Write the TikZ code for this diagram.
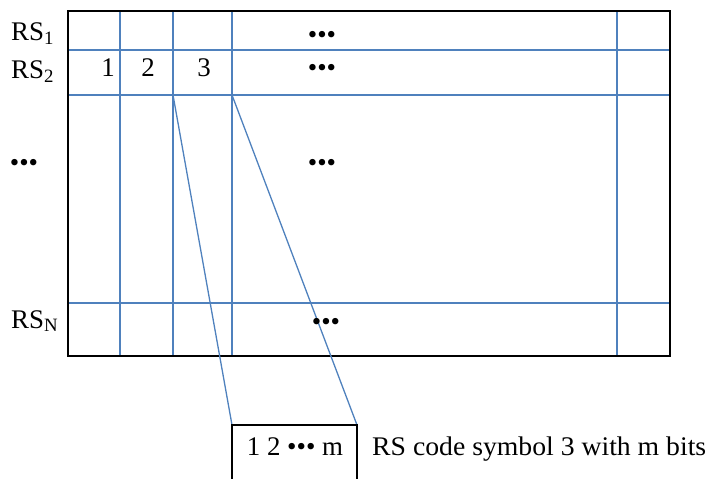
\documentclass[tikz,border=0pt]{standalone}
\usepackage{fontspec}
\setmainfont{Liberation Serif}
\definecolor{gridblue}{RGB}{79,129,189}
\begin{document}
\begin{tikzpicture}[x={(1bp,0)},y={(0,-1bp)},
  lbl/.style={inner sep=0pt,font=\fontsize{27}{32}\selectfont},
  dots/.style={lbl,anchor=center},
  gridline/.style={draw=gridblue,line width=1.6bp},
  frame/.style={draw=black,line width=2.6bp},
  bitbox/.style={draw=black,line width=1.3bp}]
\useasboundingbox (0,0) rectangle (708,479);
% grid coordinates
\coordinate (TL) at (68,11);
\coordinate (BR) at (670,356);
\foreach \n/\x in {a/120,b/173,c/232,d/617}{
  \coordinate (v\n t) at (\x,11);
  \coordinate (v\n b) at (\x,356);
  \draw[gridline] (v\n t) -- (v\n b);
}
\foreach \n/\y in {a/50,b/95,c/303}{
  \coordinate (h\n l) at (68,\y);
  \coordinate (h\n r) at (670,\y);
  \draw[gridline] (h\n l) -- (h\n r);
}
\draw[frame] (TL) rectangle (BR);
% zoom lines
\coordinate (z1) at (173,95);
\coordinate (z2) at (232,95);
\coordinate (bl) at (232,425);
\coordinate (br) at (357,425);
\coordinate (bl2) at (232,479);
\coordinate (br2) at (357,479);
\draw[gridline,line width=1.3bp] (z1) -- (bl);
\draw[gridline,line width=1.3bp] (z2) -- (br);
\draw[bitbox] (bl2) -- (bl) -- (br) -- (br2);
% labels
\node[lbl,anchor=base west] (rs1) at (11,41) {RS\textsubscript{1}};
\node[lbl,anchor=base west] (rs2) at (11,79) {RS\textsubscript{2}};
\node[lbl,anchor=base west] (rsn) at (11,328) {RS\textsubscript{N}};
\node[lbl,anchor=base] (n1) at (108,77) {1};
\node[lbl,anchor=base] (n2) at (148,77) {2};
\node[lbl,anchor=base] (n3) at (204,77) {3};
\node[dots] (d1) at (322,37) {•••};
\node[dots] (d2) at (322,70) {•••};
\node[dots] (d3) at (322,165) {•••};
\node[dots] (d4) at (24,165) {•••};
\node[dots] (d5) at (326,324) {•••};
\node[lbl,anchor=base] (bits) at (295,455) {1 2 ••• m};
\node[lbl,anchor=base west] (cap) at (372,455) {\addfontfeature{FakeStretch=1.03}RS code symbol 3 with m bits};
\end{tikzpicture}
\end{document}
